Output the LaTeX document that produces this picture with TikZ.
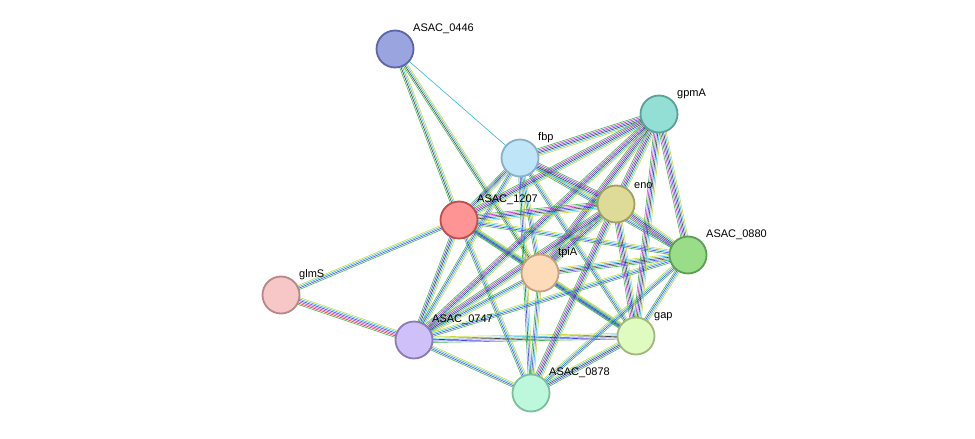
\documentclass[tikz,border=0pt]{standalone}
\usepackage{fontspec}
\setmainfont{Liberation Sans}
\usepackage{xcolor}
\usetikzlibrary{calc, backgrounds}

\definecolor{nbgreen}{HTML}{3DB84A}
\definecolor{coblue}{HTML}{4646F0}
\definecolor{dbcyan}{HTML}{2CBBE0}
\definecolor{txtyel}{HTML}{C8D83A}
\definecolor{expmag}{HTML}{C837C0}
\definecolor{fusred}{HTML}{F03030}
\definecolor{coexp}{HTML}{404040}

% strand sets: colour/offset
\def\fullset{nbgreen/-2.8, coblue/-1.4, coexp/0, dbcyan/1.4, txtyel/2.8}
\def\plainset{nbgreen/-2.1, coblue/-0.7, dbcyan/0.7, txtyel/2.1}
\def\richset{nbgreen/-3.5, expmag/-2.1, coblue/-0.7, coexp/0.7, dbcyan/2.1, txtyel/3.5}
\def\redset{nbgreen/-3.5, fusred/-2.1, expmag/-0.7, coblue/0.7, dbcyan/2.1, txtyel/3.5}
\def\lightset{nbgreen/-2.1, coexp/-0.7, dbcyan/0.7, txtyel/2.1}
\def\cyanset{dbcyan/0}

\newcommand\linkab[3]{%
  \foreach \c/\o in #3 {
    \draw[strand, \c] ($(#1)!\o pt!90:(#2)$) -- ($(#2)!\o pt!-90:(#1)$);
  }}

\begin{document}
\begin{tikzpicture}[x=1pt, y=-1pt,
    prot/.style={circle, draw, line width=1.8pt, minimum size=37pt, inner sep=0pt},
    lbl/.style={font=\fontsize{11}{12}\selectfont, anchor=south west, inner sep=1pt},
    strand/.style={line width=0.6pt}]
  \useasboundingbox (0,0) rectangle (975,439);

  % Nodes
  \node [prot, fill={rgb,255:red,154;green,165;blue,224}, draw={rgb,255:red,90;green,102;blue,168}] (p0446) at (395,49) {};
  \node [prot, fill={rgb,255:red,190;green,230;blue,248}, draw={rgb,255:red,138;green,176;blue,200}] (fbp) at (520,158) {};
  \node [prot, fill={rgb,255:red,147;green,223;blue,214}, draw={rgb,255:red,90;green,160;blue,152}] (gpmA) at (659,114) {};
  \node [prot, fill={rgb,255:red,221;green,219;blue,151}, draw={rgb,255:red,160;green,160;blue,96}] (eno) at (616,204) {};
  \node [prot, fill={rgb,255:red,255;green,148;blue,148}, draw={rgb,255:red,192;green,77;blue,77}] (p1207) at (459,220) {};
  \node [prot, fill={rgb,255:red,153;green,221;blue,136}, draw={rgb,255:red,90;green,160;blue,80}] (p0880) at (688,255) {};
  \node [prot, fill={rgb,255:red,253;green,218;blue,184}, draw={rgb,255:red,200;green,160;blue,128}] (tpiA) at (540,273) {};
  \node [prot, fill={rgb,255:red,247;green,199;blue,199}, draw={rgb,255:red,184;green,136;blue,136}] (glmS) at (281,295) {};
  \node [prot, fill={rgb,255:red,208;green,192;blue,250}, draw={rgb,255:red,138;green,122;blue,184}] (p0747) at (414,340) {};
  \node [prot, fill={rgb,255:red,224;green,251;blue,192}, draw={rgb,255:red,160;green,184;blue,128}] (gap) at (636,336) {};
  \node [prot, fill={rgb,255:red,190;green,248;blue,220}, draw={rgb,255:red,122;green,192;blue,160}] (p0878) at (531,393) {};

  % Labels
  \node [lbl] (l0446) at (412,35) {ASAC\_0446};
  \node [lbl] (lfbp) at (537,144) {fbp};
  \node [lbl] (lgpmA) at (676,100) {gpmA};
  \node [lbl] (leno) at (633,190) {eno};
  \node [lbl] (l1207) at (476,206) {ASAC\_1207};
  \node [lbl] (l0880) at (705,241) {ASAC\_0880};
  \node [lbl] (ltpiA) at (557,259) {tpiA};
  \node [lbl] (lglmS) at (298,281) {glmS};
  \node [lbl] (l0747) at (431,326) {ASAC\_0747};
  \node [lbl] (lgap) at (653,322) {gap};
  \node [lbl] (l0878) at (548,379) {ASAC\_0878};

  % Edges
  \begin{pgfonlayer}{background}
    \linkab{p0446}{fbp}{\cyanset}
    \linkab{p0446}{p1207}{\lightset}
    \linkab{p0446}{tpiA}{\lightset}
    \linkab{glmS}{p1207}{\plainset}
    \linkab{glmS}{p0747}{\redset}
    \foreach \a/\b in {fbp/p1207, p1207/tpiA, p1207/p0747, tpiA/gap, tpiA/p0880, p0747/gap, p0878/gap}
      {\linkab{\a}{\b}{\fullset}}
    \foreach \a/\b in {fbp/tpiA, fbp/p0880, fbp/gap, fbp/p0878, fbp/p0747,
        p1207/p0880, p1207/gap, p1207/p0878, tpiA/p0878, tpiA/p0747,
        p0747/p0880, p0747/p0878, p0878/p0880, p0880/gap}
      {\linkab{\a}{\b}{\plainset}}
    \foreach \a/\b in {gpmA/fbp, gpmA/p1207, gpmA/eno, gpmA/tpiA, gpmA/p0880, gpmA/gap,
        gpmA/p0747, eno/fbp, eno/p1207, eno/tpiA, eno/p0880, eno/gap, eno/p0747, eno/p0878}
      {\linkab{\a}{\b}{\richset}}
  \end{pgfonlayer}
\end{tikzpicture}
\end{document}
